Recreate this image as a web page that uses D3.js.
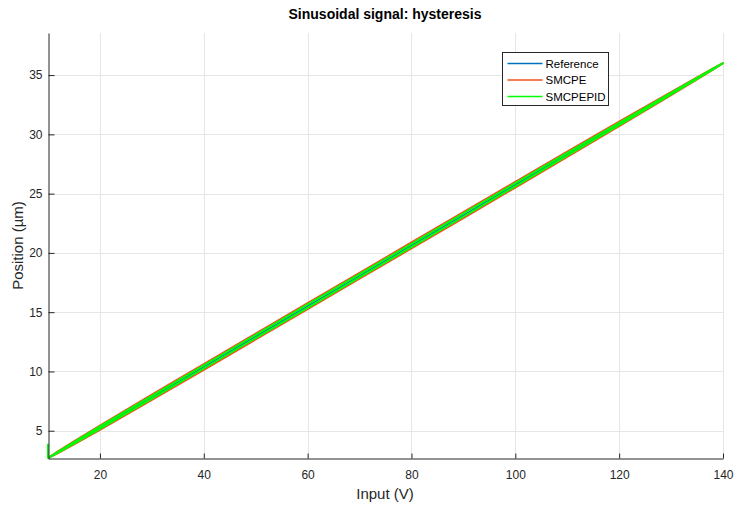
<!DOCTYPE html>
<html>
<head>
<meta charset="utf-8">
<script src="https://cdn.jsdelivr.net/npm/d3@7"></script>
<style>
  html, body { margin: 0; padding: 0; background: #fff; }
  svg { display: block; font-family: "Liberation Sans", Arial, sans-serif; }
</style>
</head>
<body>
<svg id="chart" width="734" height="507"></svg>
<script>
// Input voltage samples along one period of the sinusoidal drive
const inputV = [10, 12, 15, 20, 30, 40, 50, 60, 70, 80, 90, 100, 110, 120, 130, 135, 138, 140];

// Reference position (µm)
const referencePos = [2.70, 3.21, 3.98, 5.26, 7.82, 10.38, 12.95, 15.51, 18.07, 20.63, 23.19, 25.75, 28.32, 30.88, 33.44, 34.72, 35.49, 36.00];

// SMCPE: rising and falling branches (µm)
const smcpeRise = [2.70, 3.13, 3.85, 5.08, 7.60, 10.14, 12.70, 15.26, 17.82, 20.38, 22.94, 25.51, 28.10, 30.69, 33.31, 34.63, 35.44, 36.00];
const smcpeFall = [2.70, 3.29, 4.11, 5.44, 8.04, 10.62, 13.20, 15.76, 18.32, 20.88, 23.44, 25.99, 28.54, 31.07, 33.57, 34.81, 35.54, 36.00];

// SMCPEPID: start-up point, then rising and falling branches (µm)
const smcpepidStart = [10, 3.9];
const smcpepidRise = [2.70, 3.17, 3.91, 5.16, 7.70, 10.25, 12.81, 15.37, 17.93, 20.49, 23.05, 25.62, 28.20, 30.78, 33.37, 34.67, 35.46, 36.00];
const smcpepidFall = [2.70, 3.25, 4.05, 5.36, 7.94, 10.51, 13.09, 15.65, 18.21, 20.77, 23.33, 25.88, 28.44, 30.98, 33.51, 34.77, 35.52, 36.00];

const xTicks = [20, 40, 60, 80, 100, 120, 140];
const yTicks = [5, 10, 15, 20, 25, 30, 35];
const seriesNames = ["Reference", "SMCPE", "SMCPEPID"];
const seriesColors = ["#0072BD", "#F4511E", "#00FF00"];

const svg = d3.select("#chart");
const plotLeft = 48, plotRight = 723, plotTop = 33, plotBottom = 458;

const x = d3.scaleLinear().domain([10, 140]).range([plotLeft, plotRight]);
const y = d3.scaleLinear().domain([2.7, 38.55]).range([plotBottom, plotTop]);

// Grid
const grid = svg.append("g").attr("stroke", "#e6e6e6").attr("stroke-width", 1);
grid.selectAll("line.gx").data(xTicks).join("line")
  .attr("x1", d => Math.round(x(d)) + 0.5).attr("x2", d => Math.round(x(d)) + 0.5)
  .attr("y1", plotTop).attr("y2", plotBottom);
grid.selectAll("line.gy").data(yTicks).join("line")
  .attr("x1", plotLeft).attr("x2", plotRight)
  .attr("y1", d => Math.round(y(d)) + 0.5).attr("y2", d => Math.round(y(d)) + 0.5);

// Data curves
const line = d3.line().x(d => x(d[0])).y(d => y(d[1]));
const loop = (rise, fall) =>
  inputV.map((v, i) => [v, rise[i]]).concat(inputV.map((v, i) => [v, fall[i]]).reverse());

const curves = [
  { pts: inputV.map((v, i) => [v, referencePos[i]]), color: seriesColors[0], w: 1.5 },
  { pts: loop(smcpeRise, smcpeFall), color: seriesColors[1], w: 2 },
  { pts: [smcpepidStart].concat(loop(smcpepidRise, smcpepidFall)), color: seriesColors[2], w: 2 }
];
svg.append("g").selectAll("path").data(curves).join("path")
  .attr("d", d => line(d.pts))
  .attr("fill", "none")
  .attr("stroke", d => d.color)
  .attr("stroke-width", d => d.w)
  .attr("stroke-linejoin", "round");

// Axes (ticks point inward)
const axisColor = "#262626";
const xAxis = svg.append("g").attr("transform", `translate(0,${plotBottom + 0.5})`)
  .call(d3.axisBottom(x).tickValues(xTicks).tickSizeInner(-5).tickSizeOuter(0).tickPadding(12));
const yAxis = svg.append("g").attr("transform", `translate(${plotLeft + 0.5},0)`)
  .call(d3.axisLeft(y).tickValues(yTicks).tickSizeInner(-6).tickSizeOuter(0).tickPadding(6));
[xAxis, yAxis].forEach(a => {
  a.select(".domain").attr("stroke", axisColor);
  a.selectAll(".tick line").attr("stroke", axisColor);
  a.selectAll(".tick text").attr("fill", axisColor)
    .style("font-size", "12px").style("font-family", "Liberation Sans, Arial, sans-serif");
});

// Title and axis labels
svg.append("text").attr("x", 385).attr("y", 19).attr("text-anchor", "middle")
  .style("font-size", "14px").style("font-weight", "bold").attr("fill", "#000")
  .text("Sinusoidal signal: hysteresis");
svg.append("text").attr("x", 385).attr("y", 499).attr("text-anchor", "middle")
  .style("font-size", "15px").attr("fill", axisColor).text("Input (V)");
svg.append("text").attr("transform", `translate(23,${(plotTop + plotBottom) / 2}) rotate(-90)`)
  .attr("text-anchor", "middle").style("font-size", "15px").attr("fill", axisColor)
  .text("Position (µm)");

// Legend
const lg = svg.append("g").attr("transform", "translate(502.5,52.5)");
lg.append("rect").attr("width", 106).attr("height", 53)
  .attr("fill", "#fff").attr("stroke", "#262626").attr("stroke-width", 1);
seriesNames.forEach((name, i) => {
  const yy = 11 + i * 16.5;
  lg.append("line").attr("x1", 5).attr("x2", 40).attr("y1", yy).attr("y2", yy)
    .attr("stroke", seriesColors[i]).attr("stroke-width", 1.5);
  lg.append("text").attr("x", 43).attr("y", yy + 4).style("font-size", "11.5px")
    .attr("fill", "#000").text(name);
});
</script>
</body>
</html>
